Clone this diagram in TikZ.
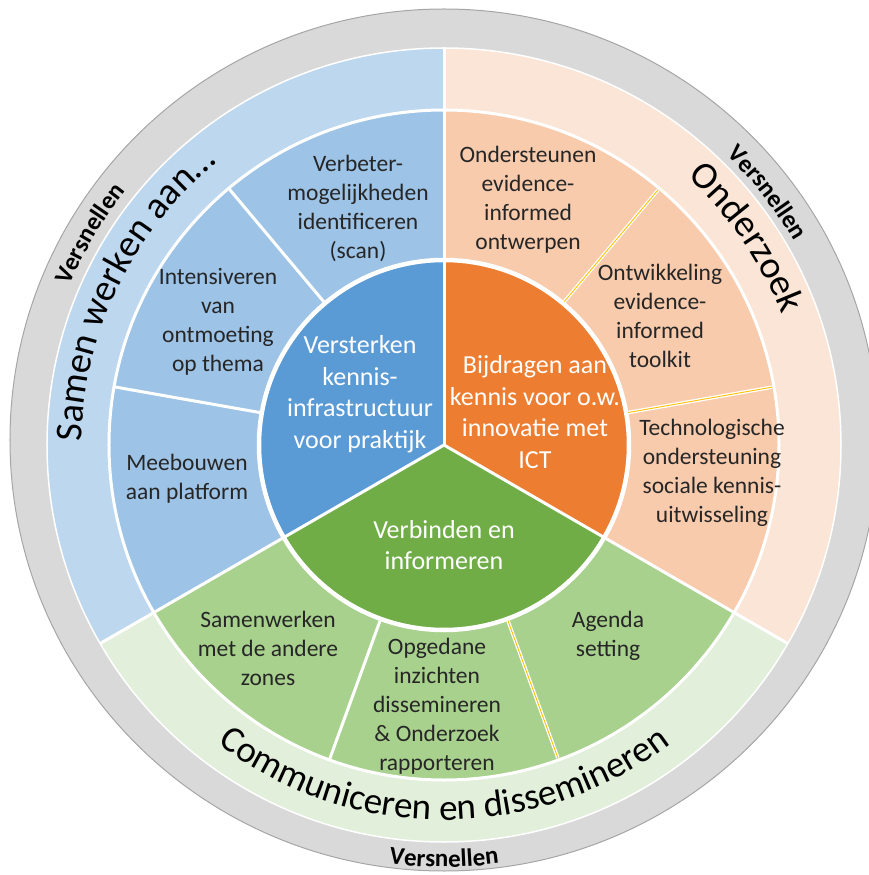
\documentclass[tikz,border=0pt]{standalone}
\usepackage{fontspec}
\setmainfont{Carlito}
\usepackage{tikz}
\usetikzlibrary{decorations.text}

\definecolor{ringgrey}{HTML}{D9D9D9}
\definecolor{greyedge}{HTML}{A6A6A6}
\definecolor{blueout}{HTML}{BDD7EE}
\definecolor{bluemid}{HTML}{9DC3E6}
\definecolor{bluein}{HTML}{5B9BD5}
\definecolor{orangeout}{HTML}{FBE5D6}
\definecolor{orangemid}{HTML}{F8CBAD}
\definecolor{orangein}{HTML}{ED7D31}
\definecolor{greenout}{HTML}{E2EFDA}
\definecolor{greenmid}{HTML}{A9D18E}
\definecolor{greenin}{HTML}{70AD47}
\definecolor{seamgold}{HTML}{FFC000}
\definecolor{labelgrey}{HTML}{262626}

\tikzset{
	gap/.style={white, line width=3},
	seam/.style={draw=seamgold, line width=0.9, preaction={draw=white, line width=3.5}},
	midlabel/.style={align=center, text=labelgrey, font=\fontsize{23.5}{29}\selectfont},
	corelabel/.style={align=center, text=white, font=\fontsize{26}{31.5}\selectfont},
	ringtext/.style={decorate, decoration={text along path, text align=center, text={#1}}}
}

\begin{document}
\begin{tikzpicture}[x=1pt,y=1pt]
	\useasboundingbox (-444,-430) rectangle (424,445);
	
	% grey band
	\fill[ringgrey, draw=greyedge, line width=1] (0,5) ellipse[x radius=434, y radius=431];
	
	% outer ring
	\fill[blueout] (0,0) -- (90:397) arc[start angle=90, end angle=210, radius=397] -- cycle;
	\fill[greenout] (0,0) -- (210:397) arc[start angle=210, end angle=330, radius=397] -- cycle;
	\fill[orangeout] (0,0) -- (-30:397) arc[start angle=-30, end angle=90, radius=397] -- cycle;
	
	% middle ring
	\fill[bluemid] (0,0) -- (90:335) arc[start angle=90, end angle=210, radius=335] -- cycle;
	\fill[greenmid] (0,0) -- (210:335) arc[start angle=210, end angle=330, radius=335] -- cycle;
	\fill[orangemid] (0,0) -- (-30:335) arc[start angle=-30, end angle=90, radius=335] -- cycle;
	
	% core
	\fill[bluein] (0,0) -- (90:185) arc[start angle=90, end angle=210, radius=185] -- cycle;
	\fill[greenin] (0,0) -- (210:185) arc[start angle=210, end angle=330, radius=185] -- cycle;
	\fill[orangein] (0,0) -- (-30:185) arc[start angle=-30, end angle=90, radius=185] -- cycle;
	
	%-------------------------------------
	\draw[gap, line width=1.5] (0,0) circle(397);
	\draw[gap] (0,0) circle(335);
	\draw[gap, line width=4.5] (0,0) circle(185);
	\draw[gap] (0,0) -- (90:397);
	\draw[gap] (0,0) -- (210:397);
	\draw[gap] (0,0) -- (330:397);
	\draw[gap] (130:185) -- (130:335);
	\draw[gap] (170:185) -- (170:335);
	\draw[gap] (250:185) -- (250:335);
	\draw[seam] (50:187) -- (50:333);
	\draw[seam] (10:187) -- (10:333);
	\draw[seam] (290:187) -- (290:333);
	
	%-------------------------------------
	\node[corelabel] (infra) at (-84,51) {Versterken\\kennis-\\infrastructuur\\voor praktijk};
	\node[corelabel] (ict) at (91,33) {Bijdragen aan\\kennis voor o.w.\\innovatie met\\ICT};
	\node[corelabel] (verbinden) at (0,-100) {Verbinden en\\informeren};
	
	\node[midlabel] (scan) at (-86,237) {Verbeter-\\mogelijkheden\\identificeren\\(scan)};
	\node[midlabel] (ontmoeting) at (-226,123) {Intensiveren\\van\\ontmoeting\\op thema};
	\node[midlabel] (platform) at (-257,-34) {Meebouwen\\aan platform};
	\node[midlabel] (ontwerpen) at (84,245) {Ondersteunen\\evidence-\\informed\\ontwerpen};
	\node[midlabel] (toolkit) at (216,129) {Ontwikkeling\\evidence-\\informed\\toolkit};
	\node[midlabel] (uitwisseling) at (268,-28) {Technologische\\ondersteuning\\sociale kennis-\\uitwisseling};
	\node[midlabel] (zones) at (-176,-203) {Samenwerken\\met de andere\\zones};
	\node[midlabel] (rapporteren) at (-7,-261) {Opgedane\\inzichten\\dissemineren\\\& Onderzoek\\rapporteren};
	\node[midlabel] (agenda) at (164,-191) {Agenda\\setting};
	
	%-------------------------------------
	\path[ringtext={|\fontsize{38}{40}\selectfont|Samen werken aan…}] (194.1:362) arc[start angle=194.1, end angle=114.1, radius=362];
	\path[ringtext={|\fontsize{38}{40}\selectfont|Onderzoek}] (64.4:362) arc[start angle=64.4, end angle=4.4, radius=362];
	\path[ringtext={|\fontsize{37}{40}\selectfont|Communiceren en dissemineren}] (220:375) arc[start angle=220, end angle=320, radius=375];
	
	\path[ringtext={|\fontsize{25}{28}\selectfont\bfseries|Versnellen}] (169.2:407) arc[start angle=169.2, end angle=129.2, radius=407];
	\path[ringtext={|\fontsize{25}{28}\selectfont\bfseries|Versnellen}] (58:405) arc[start angle=58, end angle=18, radius=405];
	\path[ringtext={|\fontsize{25}{28}\selectfont\bfseries|Versnellen}] (255:422) arc[start angle=255, end angle=285, radius=422];
	
\end{tikzpicture}
\end{document}
